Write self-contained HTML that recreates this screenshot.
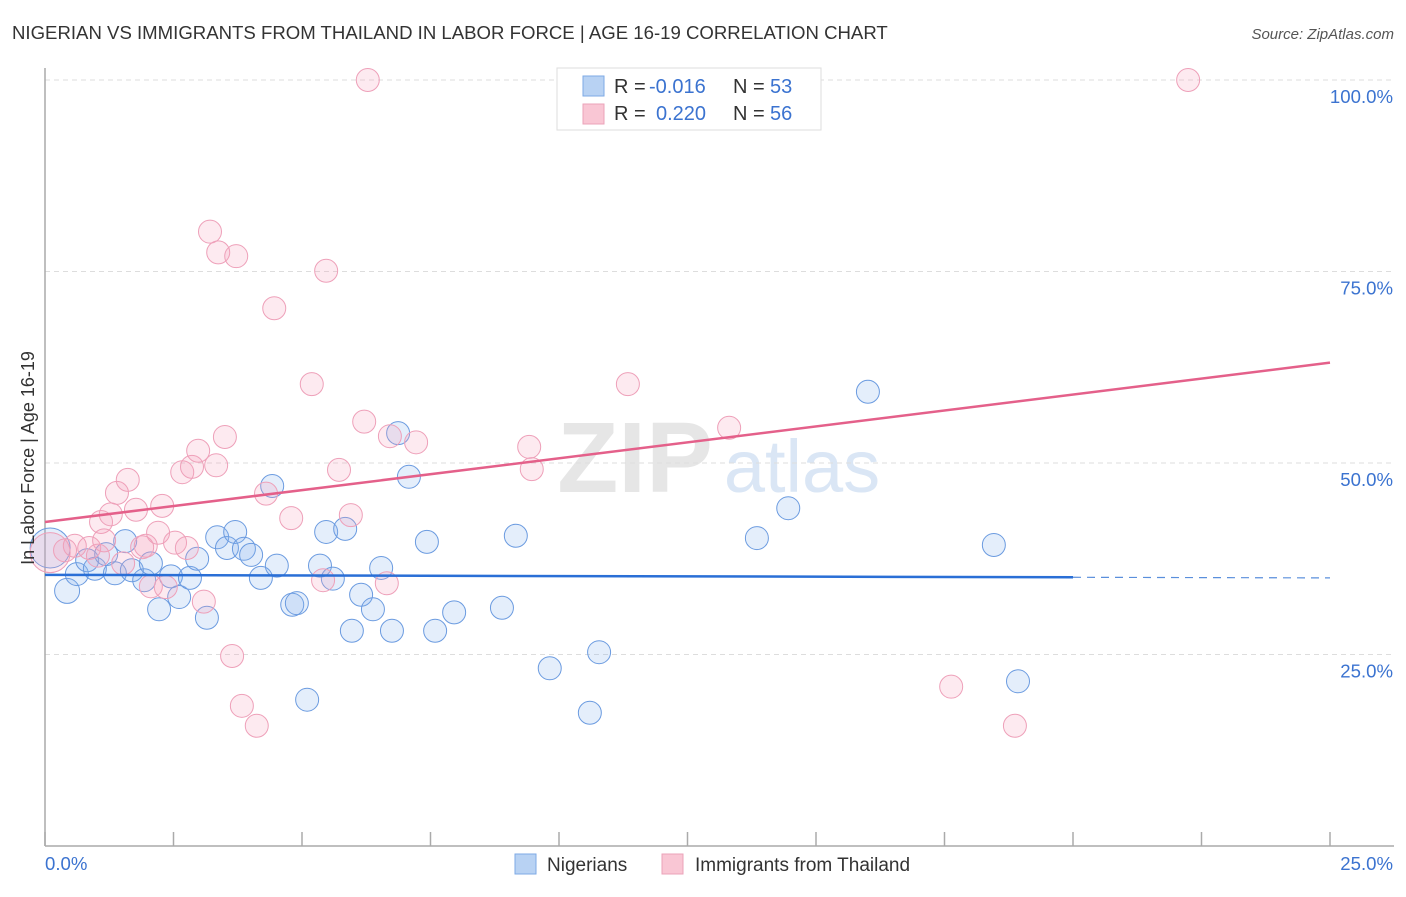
<!DOCTYPE html>
<html><head><meta charset="utf-8">
<style>
body{margin:0;background:#fff;font-family:"Liberation Sans",sans-serif;}
svg text{font-family:"Liberation Sans",sans-serif;}
</style></head>
<body>
<svg id="chart" width="1406" height="892" xmlns="http://www.w3.org/2000/svg">
<text x="12" y="39" font-size="18.6" fill="#333">NIGERIAN VS IMMIGRANTS FROM THAILAND IN LABOR FORCE | AGE 16-19 CORRELATION CHART</text>
<text x="1394" y="39" font-size="15" fill="#555" text-anchor="end" font-style="italic">Source: ZipAtlas.com</text>
<text x="635" y="492" font-size="100" fill="#e6e6e6" font-family="Liberation Serif" font-weight="bold" text-anchor="middle">ZIP</text>
<text x="802" y="492" font-size="74" fill="#dae6f5" text-anchor="middle">atlas</text>
<g id="grid"></g>
<g id="axes"></g>
<g id="pts"></g>
<g id="trend"></g>
<text transform="translate(34,458) rotate(-90)" font-size="18" fill="#333" text-anchor="middle">In Labor Force | Age 16-19</text>
<g>
<rect x="557" y="68" width="264" height="62" fill="#fff" stroke="#ddd"/>
<rect x="583" y="76" width="21" height="20" fill="#b8d2f3" stroke="#7eaae6"/>
<rect x="583" y="104" width="21" height="20" fill="#f9c6d4" stroke="#eba3b9"/>
<text x="614" y="93" font-size="20" fill="#333">R = </text><text x="649" y="93" font-size="20" fill="#3b73d0">-0.016</text>
<text x="733" y="93" font-size="20" fill="#333">N = </text><text x="770" y="93" font-size="20" fill="#3b73d0">53</text>
<text x="614" y="120" font-size="20" fill="#333">R = </text><text x="656" y="120" font-size="20" fill="#3b73d0">0.220</text>
<text x="733" y="120" font-size="20" fill="#333">N = </text><text x="770" y="120" font-size="20" fill="#3b73d0">56</text>
</g>
<g>
<rect x="515" y="854" width="21" height="20" fill="#b8d2f3" stroke="#7eaae6"/>
<text x="547" y="871" font-size="19" fill="#333">Nigerians</text>
<rect x="662" y="854" width="21" height="20" fill="#f9c6d4" stroke="#eba3b9"/>
<text x="695" y="871" font-size="19" fill="#333">Immigrants from Thailand</text>
</g>
</svg>
<script>
const blueX=[0.1,0.43,0.62,0.82,0.97,1.19,1.36,1.56,1.69,1.93,2.06,2.22,2.45,2.61,2.82,2.96,3.15,3.35,3.54,3.70,3.87,4.01,4.20,4.42,4.51,4.81,4.90,5.10,5.35,5.47,5.60,5.84,5.97,6.15,6.38,6.54,6.75,6.87,7.08,7.43,7.59,7.96,8.89,9.16,9.82,10.60,10.78,13.85,14.46,16.01,18.46,18.93];
const blueY=[38.9,33.3,35.5,37.3,36.2,38.1,35.6,39.8,36.0,34.7,36.9,30.9,35.2,32.5,35.0,37.5,29.8,40.3,38.9,41.0,38.8,38.0,35.0,47.0,36.6,31.5,31.7,19.1,36.6,41.0,34.9,41.4,28.1,32.8,30.9,36.3,28.1,53.9,48.2,39.7,28.1,30.5,31.1,40.5,23.2,17.4,25.3,40.2,44.1,59.3,39.3,21.5];
const blueBig=[0,1];
const pinkX=[0.1,0.39,0.58,0.86,1.03,1.09,1.15,1.28,1.40,1.52,1.61,1.77,1.89,1.96,2.06,2.20,2.28,2.35,2.53,2.67,2.76,2.86,2.98,3.09,3.21,3.33,3.37,3.50,3.64,3.72,3.83,4.12,4.30,4.46,4.79,5.19,5.41,5.47,5.72,5.95,6.21,6.28,6.65,6.71,7.22,9.42,9.47,11.34,13.31,17.63,18.87,22.24];
const pinkY=[38.3,38.6,39.2,38.9,37.9,42.3,39.9,43.3,46.1,36.9,47.8,43.9,39.0,39.2,33.9,40.9,44.4,33.8,39.6,48.8,38.9,49.5,51.6,31.9,80.2,49.7,77.5,53.4,24.8,77.0,18.3,15.7,46.0,70.2,42.8,60.3,34.7,75.1,49.1,43.2,55.4,100,34.3,53.5,52.7,52.1,49.2,60.3,54.6,20.8,15.7,100];
const pinkBig=[0];
const blueTrend=[35.4,35.0];   // value at x=0 and x=25
const blueSolidEnd=20;
const pinkTrend=[42.3,63.1];
const yTicks=[25,50,75,100];
const yTickLabels=["25.0%","50.0%","75.0%","100.0%"];
const xTicks=[0,2.5,5,7.5,10,12.5,15,17.5,20,22.5,25];
const xTickLabels=["0.0%","25.0%"];

const NS="http://www.w3.org/2000/svg";
const X0=45,X1=1330,Y0=846,Y1=80;
const sx=v=>X0+(v/25)*(X1-X0);
const sy=v=>Y0-(v/100)*(Y0-Y1);
function mk(tag,attrs,parent){const e=document.createElementNS(NS,tag);for(const k in attrs)e.setAttribute(k,attrs[k]);parent.appendChild(e);return e;}
const grid=document.getElementById('grid'),axes=document.getElementById('axes'),pts=document.getElementById('pts'),trend=document.getElementById('trend');
yTicks.forEach((t,i)=>{
  const l=mk('line',{x1:X0,x2:1394,y1:sy(t),y2:sy(t),stroke:'#ddd','stroke-dasharray':'5,4'},grid);
  
  
  const tx=mk('text',{x:1393,y:sy(t)+23,'font-size':18.6,fill:'#3b73d0','text-anchor':'end'},axes);
  tx.textContent=yTickLabels[i];
  
  
});
const ax=mk('line',{x1:X0,x2:X0,y1:68,y2:Y0,stroke:'#aaa','stroke-width':1.5},axes);


const bx=mk('line',{x1:X0,x2:1394,y1:Y0,y2:Y0,stroke:'#aaa','stroke-width':1.5},axes);


xTicks.forEach(t=>{
  const l=mk('line',{x1:sx(t),x2:sx(t),y1:Y0-14,y2:Y0,stroke:'#aaa','stroke-width':1.5},axes);
  
  
});
const xl0=mk('text',{x:45,y:870,'font-size':18.6,fill:'#3b73d0'},axes);xl0.textContent=xTickLabels[0];


const xl1=mk('text',{x:1393,y:870,'font-size':18.6,fill:'#3b73d0','text-anchor':'end'},axes);xl1.textContent=xTickLabels[1];



function dots(xs,ys,big,fill,stroke,name){
  xs.forEach((x,i)=>{
    const r=big.includes(i)?(i===0?20:12.5):11.5;
    const c=mk('circle',{cx:sx(x),cy:sy(ys[i]),r:r,fill:fill,stroke:stroke,'stroke-width':1},pts);
    
    
  });
}
dots(blueX,blueY,blueBig,'rgba(130,178,238,0.22)','#6b9be0','point-nigerians');
dots(pinkX,pinkY,pinkBig,'rgba(245,160,188,0.22)','#eea0b9','point-thailand');

const bl=mk('line',{x1:sx(0),y1:sy(blueTrend[0]),x2:sx(blueSolidEnd),y2:sy(blueTrend[0]+(blueTrend[1]-blueTrend[0])*blueSolidEnd/25),stroke:'#2a6fd6','stroke-width':2.5},trend);


const bd=mk('line',{x1:sx(blueSolidEnd),y1:sy(blueTrend[0]+(blueTrend[1]-blueTrend[0])*blueSolidEnd/25),x2:sx(25),y2:sy(blueTrend[1]),stroke:'#5a8fdc','stroke-width':1.2,'stroke-dasharray':'8,6'},trend);


const pl=mk('line',{x1:sx(0),y1:sy(pinkTrend[0]),x2:sx(25),y2:sy(pinkTrend[1]),stroke:'#e4608a','stroke-width':2.5},trend);


</script>
</body></html>
